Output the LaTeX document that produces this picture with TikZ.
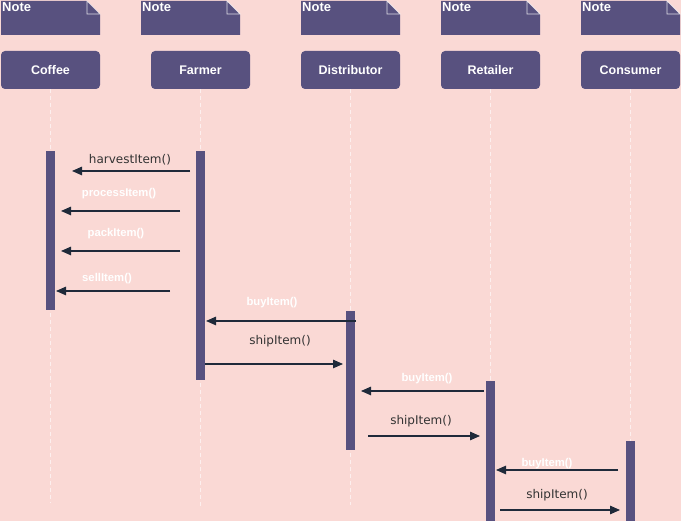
\documentclass[tikz,border=0pt]{standalone}
\usepackage{fontspec}
\setmainfont{Liberation Sans}
\newfontfamily\msgfont{DejaVu Sans}
\usetikzlibrary{arrows.meta}

\definecolor{bgpink}{HTML}{FAD9D5}
\definecolor{boxcol}{HTML}{58517F}
\definecolor{arrowcol}{HTML}{1F2A3A}

\tikzset{
  lifebox/.style={fill=boxcol,rounded corners=4pt,minimum width=99pt,minimum height=38pt,inner sep=0pt,text=white,font=\bfseries\fontsize{12.5}{14}\selectfont},
  actbar/.style={fill=boxcol,minimum width=9pt,inner sep=0pt},
  life/.style={white,opacity=.6,line width=.8pt,dash pattern=on 4pt off 3pt},
  notebox/.style={fill=boxcol},
  notefold/.style={white,opacity=.8,line width=.7pt},
  notelabel/.style={anchor=north west,inner sep=1pt,text=white,font=\bfseries\fontsize{13}{14}\selectfont},
  msg/.style={-{Triangle[length=10pt,width=8.5pt]},line width=1.2pt,color=arrowcol},
  darklabel/.style={text=black!80,font=\msgfont\fontsize{12}{13}\selectfont},
  lightlabel/.style={text=white,font=\bfseries\fontsize{11.3}{13}\selectfont}
}

\begin{document}
\begin{tikzpicture}[x=1pt,y=-1pt]
\fill[bgpink] (0,0) rectangle (681,521);
\useasboundingbox (0,0) rectangle (681,521);

% notes
\fill[notebox] (1,1) -- (87,1) -- (100,14) -- (100,35) -- (1,35) -- cycle;
\draw[notefold] (87,1) -- (87,14) -- (100,14) -- cycle;
\node[notelabel] (n1) at (1,1) {Note};
\fill[notebox] (141,1) -- (227,1) -- (240,14) -- (240,35) -- (141,35) -- cycle;
\draw[notefold] (227,1) -- (227,14) -- (240,14) -- cycle;
\node[notelabel] (n2) at (141,1) {Note};
\fill[notebox] (301,1) -- (387,1) -- (400,14) -- (400,35) -- (301,35) -- cycle;
\draw[notefold] (387,1) -- (387,14) -- (400,14) -- cycle;
\node[notelabel] (n3) at (301,1) {Note};
\fill[notebox] (441,1) -- (527,1) -- (540,14) -- (540,35) -- (441,35) -- cycle;
\draw[notefold] (527,1) -- (527,14) -- (540,14) -- cycle;
\node[notelabel] (n4) at (441,1) {Note};
\fill[notebox] (581,1) -- (667,1) -- (680,14) -- (680,35) -- (581,35) -- cycle;
\draw[notefold] (667,1) -- (667,14) -- (680,14) -- cycle;
\node[notelabel] (n5) at (581,1) {Note};

% lifelines
\node[lifebox] (coffee) at (50.5,70) {Coffee};
\node[lifebox] (farmer) at (200.5,70) {Farmer};
\node[lifebox] (distributor) at (350.5,70) {Distributor};
\node[lifebox] (retailer) at (490.5,70) {Retailer};
\node[lifebox] (consumer) at (630.5,70) {Consumer};

\coordinate (coffeeend) at (50.5,503);
\coordinate (farmerend) at (200.5,508);
\coordinate (distributorend) at (350.5,505);
\coordinate (retailerend) at (490.5,521);
\coordinate (consumerend) at (630.5,521);
\draw[life] (coffee.south) -- (coffeeend);
\draw[life] (farmer.south) -- (farmerend);
\draw[life] (distributor.south) -- (distributorend);
\draw[life] (retailer.south) -- (retailerend);
\draw[life] (consumer.south) -- (consumerend);

% activations
\node[actbar,minimum height=159pt] (coffeebar) at (50.5,230.5) {};
\node[actbar,minimum height=229pt] (farmerbar) at (200.5,265.5) {};
\node[actbar,minimum height=139pt] (distributorbar) at (350.5,380.5) {};
\node[actbar,minimum height=140pt] (retailerbar) at (490.5,451) {};
\node[actbar,minimum height=80pt] (consumerbar) at (630.5,481) {};

% messages
\coordinate (m1s) at (190,171);
\coordinate (m1e) at (72,171);
\draw[msg] (m1s) -- (m1e);
\node[darklabel] (l1) at (130,160) {harvestItem()};

\coordinate (m2s) at (180,211);
\coordinate (m2e) at (61,211);
\draw[msg] (m2s) -- (m2e);
\node[lightlabel] (l2) at (119,194) {processItem()};

\coordinate (m3s) at (180,251);
\coordinate (m3e) at (61,251);
\draw[msg] (m3s) -- (m3e);
\node[lightlabel] (l3) at (116,234) {packItem()};

\coordinate (m4s) at (170,291);
\coordinate (m4e) at (56,291);
\draw[msg] (m4s) -- (m4e);
\node[lightlabel] (l4) at (107,279) {sellItem()};

\coordinate (m5s) at (356,321);
\coordinate (m5e) at (206,321);
\draw[msg] (m5s) -- (m5e);
\node[lightlabel] (l5) at (272,303) {buyItem()};

\coordinate (m6s) at (205,364);
\coordinate (m6e) at (343,364);
\draw[msg] (m6s) -- (m6e);
\node[darklabel] (l6) at (280,341) {shipItem()};

\coordinate (m7s) at (484,391);
\coordinate (m7e) at (361,391);
\draw[msg] (m7s) -- (m7e);
\node[lightlabel] (l7) at (427,379) {buyItem()};

\coordinate (m8s) at (368,436);
\coordinate (m8e) at (480,436);
\draw[msg] (m8s) -- (m8e);
\node[darklabel] (l8) at (421,421) {shipItem()};

\coordinate (m9s) at (618,470);
\coordinate (m9e) at (496,470);
\draw[msg] (m9s) -- (m9e);
\node[lightlabel] (l9) at (547,464) {buyItem()};

\coordinate (m10s) at (500,510);
\coordinate (m10e) at (620,510);
\draw[msg] (m10s) -- (m10e);
\node[darklabel] (l10) at (557,495) {shipItem()};
\end{tikzpicture}
\end{document}
